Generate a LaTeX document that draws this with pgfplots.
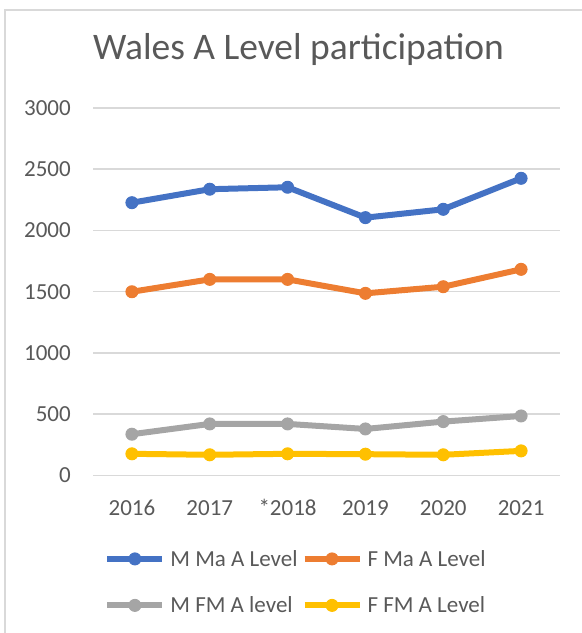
\documentclass[border=0pt]{standalone}
\usepackage{fontspec}
\setmainfont{Carlito}
\usepackage{pgfplots}
\pgfplotsset{compat=1.18}
\definecolor{txt}{HTML}{595959}
\definecolor{grd}{HTML}{D9D9D9}
\definecolor{cblue}{HTML}{4472C4}
\definecolor{corange}{HTML}{ED7D31}
\definecolor{cgray}{HTML}{A5A5A5}
\definecolor{cyellow}{HTML}{FFC000}
\begin{document}
\begin{tikzpicture}
\useasboundingbox (0bp,0bp) rectangle (582bp,633bp);
\draw[grd, line width=2bp] (5bp,0bp) -- (5bp,623bp) -- (582bp,623bp);
\begin{axis}[
  at={(93bp,157.5bp)}, anchor=south west,
  scale only axis, width=467bp, height=367.5bp,
  xmin=-0.5, xmax=5.5, ymin=0, ymax=3000,
  xtick={0,...,5}, xticklabels={2016,2017,*2018,2019,2020,2021},
  ytick={0,500,...,3000},
  axis line style={draw=none}, major tick length=0pt,
  ymajorgrids, grid style={grd, line width=1.5bp},
  tick label style={font=\fontsize{23bp}{28bp}\selectfont, text=txt, inner sep=0pt},
  xticklabel style={anchor=base, yshift=-39.5bp},
  yticklabel style={anchor=east, xshift=-22bp},
  /pgf/number format/assume math mode=true,
  /pgf/number format/1000 sep={},
  title={Wales A Level participation},
  title style={at={(0.44,1)}, anchor=base, yshift=43bp, font=\fontsize{37.5bp}{45bp}\selectfont, text=txt, inner sep=0pt},
  legend columns=2,
  legend cell align=left,
  legend style={at={(0.024,-0.2027)}, anchor=north west, draw=none, fill=none, inner sep=0pt,
    font=\fontsize{23bp}{28bp}\selectfont, text=txt, row sep=29bp,
    /tikz/every odd column/.style={column sep=5bp},
    /tikz/every even column/.style={column sep=4bp},
    nodes={inner sep=0pt}},
  legend image code/.code={\draw[mark repeat=2, mark phase=2, #1] plot coordinates {(0bp,0bp) (27.5bp,0bp) (55bp,0bp)};},
  every axis plot/.append style={line width=6bp, mark=*, mark size=6bp, mark options={line width=1bp}, line join=round},
]
\addplot[cblue] coordinates {(0,2227) (1,2337) (2,2353) (3,2105) (4,2173) (5,2426)};
\addlegendentry{M Ma A Level}
\addplot[corange] coordinates {(0,1500) (1,1601) (2,1601) (3,1487) (4,1541) (5,1683)};
\addlegendentry{F Ma A Level}
\addplot[cgray] coordinates {(0,337) (1,421) (2,421) (3,380) (4,440) (5,486)};
\addlegendentry{M FM A level}
\addplot[cyellow] coordinates {(0,177) (1,169) (2,177) (3,174) (4,169) (5,201)};
\addlegendentry{F FM A Level}
\end{axis}
\end{tikzpicture}
\end{document}
